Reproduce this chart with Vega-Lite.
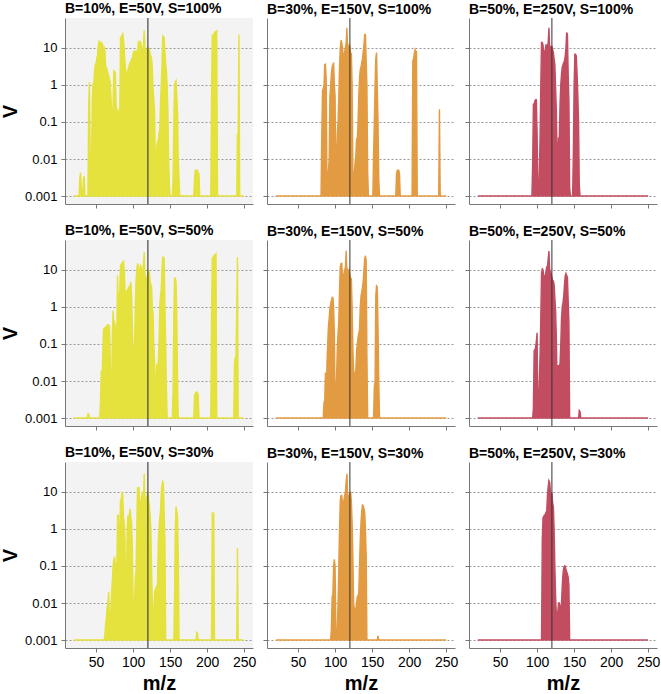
{
"$schema":"https://vega.github.io/schema/vega-lite/v6.json",
"background":"white",
"padding":{"left":0,"top":2,"right":4,"bottom":4},
"datasets":{"spec":[
{"p":1,"x":20,"v":0.001},{"p":1,"x":27,"v":0.001},{"p":1,"x":28,"v":0.003},{"p":1,"x":29,"v":0.0043},{"p":1,"x":30,"v":0.0018},{"p":1,"x":31,"v":0.001},{"p":1,"x":32,"v":0.001},{"p":1,"x":33,"v":0.003},{"p":1,"x":34,"v":0.0034},{"p":1,"x":35,"v":0.001},{"p":1,"x":39,"v":0.001},{"p":1,"x":40,"v":0.29},{"p":1,"x":41,"v":1.2},{"p":1,"x":42,"v":0.012},{"p":1,"x":43,"v":0.01},{"p":1,"x":44,"v":0.012},{"p":1,"x":45,"v":0.5},{"p":1,"x":46,"v":1.1},{"p":1,"x":47,"v":1.1},{"p":1,"x":48,"v":2.5},{"p":1,"x":49,"v":3.6},{"p":1,"x":50,"v":3.6},{"p":1,"x":51,"v":5.5},{"p":1,"x":52,"v":6},{"p":1,"x":53,"v":12},{"p":1,"x":54,"v":15},{"p":1,"x":55,"v":14},{"p":1,"x":56,"v":10},{"p":1,"x":57,"v":14},{"p":1,"x":58,"v":13},{"p":1,"x":59,"v":12},{"p":1,"x":60,"v":9},{"p":1,"x":61,"v":10},{"p":1,"x":62,"v":8},{"p":1,"x":63,"v":3},{"p":1,"x":64,"v":3},{"p":1,"x":65,"v":2.5},{"p":1,"x":66,"v":2},{"p":1,"x":67,"v":1.8},{"p":1,"x":68,"v":1.4},{"p":1,"x":69,"v":1.2},{"p":1,"x":70,"v":0.5},{"p":1,"x":71,"v":0.2},{"p":1,"x":72,"v":0.01},{"p":1,"x":73,"v":0.3},{"p":1,"x":74,"v":2.4},{"p":1,"x":75,"v":2.3},{"p":1,"x":76,"v":2.2},{"p":1,"x":77,"v":0.3},{"p":1,"x":78,"v":0.2},{"p":1,"x":79,"v":0.15},{"p":1,"x":80,"v":0.2},{"p":1,"x":81,"v":0.18},{"p":1,"x":82,"v":0.15},{"p":1,"x":83,"v":20},{"p":1,"x":84,"v":18},{"p":1,"x":85,"v":22},{"p":1,"x":86,"v":24},{"p":1,"x":87,"v":17},{"p":1,"x":88,"v":10},{"p":1,"x":89,"v":4},{"p":1,"x":90,"v":2.5},{"p":1,"x":91,"v":2},{"p":1,"x":92,"v":1.5},{"p":1,"x":93,"v":2.5},{"p":1,"x":94,"v":3},{"p":1,"x":95,"v":3.5},{"p":1,"x":96,"v":4},{"p":1,"x":97,"v":4.5},{"p":1,"x":98,"v":5},{"p":1,"x":99,"v":4.5},{"p":1,"x":100,"v":7},{"p":1,"x":101,"v":8},{"p":1,"x":102,"v":7.5},{"p":1,"x":103,"v":8},{"p":1,"x":104,"v":8.5},{"p":1,"x":105,"v":7},{"p":1,"x":106,"v":5},{"p":1,"x":107,"v":14},{"p":1,"x":108,"v":13},{"p":1,"x":109,"v":15},{"p":1,"x":110,"v":14},{"p":1,"x":111,"v":12},{"p":1,"x":112,"v":8},{"p":1,"x":113,"v":6},{"p":1,"x":114,"v":12},{"p":1,"x":115,"v":30},{"p":1,"x":116,"v":10},{"p":1,"x":117,"v":8},{"p":1,"x":118,"v":9},{"p":1,"x":119,"v":9},{"p":1,"x":120,"v":10},{"p":1,"x":121,"v":10},{"p":1,"x":122,"v":9},{"p":1,"x":123,"v":7},{"p":1,"x":124,"v":6},{"p":1,"x":125,"v":5},{"p":1,"x":126,"v":3},{"p":1,"x":127,"v":0.8},{"p":1,"x":128,"v":0.4},{"p":1,"x":129,"v":0.2},{"p":1,"x":130,"v":0.01},{"p":1,"x":131,"v":0.004},{"p":1,"x":132,"v":0.02},{"p":1,"x":133,"v":0.03},{"p":1,"x":134,"v":0.03},{"p":1,"x":135,"v":0.05},{"p":1,"x":136,"v":0.06},{"p":1,"x":137,"v":0.3},{"p":1,"x":138,"v":1},{"p":1,"x":139,"v":3},{"p":1,"x":140,"v":21},{"p":1,"x":141,"v":20},{"p":1,"x":142,"v":19},{"p":1,"x":143,"v":8},{"p":1,"x":144,"v":3.6},{"p":1,"x":145,"v":2.4},{"p":1,"x":146,"v":1},{"p":1,"x":147,"v":0.2},{"p":1,"x":148,"v":0.01},{"p":1,"x":149,"v":0.002},{"p":1,"x":150,"v":0.001},{"p":1,"x":153,"v":0.001},{"p":1,"x":154,"v":0.0024},{"p":1,"x":155,"v":0.1},{"p":1,"x":156,"v":1},{"p":1,"x":157,"v":1.2},{"p":1,"x":158,"v":1.3},{"p":1,"x":159,"v":0.5},{"p":1,"x":160,"v":0.2},{"p":1,"x":161,"v":0.01},{"p":1,"x":162,"v":0.003},{"p":1,"x":163,"v":0.001},{"p":1,"x":182,"v":0.001},{"p":1,"x":183,"v":0.003},{"p":1,"x":184,"v":0.005},{"p":1,"x":185,"v":0.005},{"p":1,"x":186,"v":0.005},{"p":1,"x":187,"v":0.005},{"p":1,"x":188,"v":0.004},{"p":1,"x":189,"v":0.004},{"p":1,"x":190,"v":0.001},{"p":1,"x":205,"v":0.001},{"p":1,"x":206,"v":0.5},{"p":1,"x":207,"v":23},{"p":1,"x":208,"v":20},{"p":1,"x":209,"v":22},{"p":1,"x":210,"v":26},{"p":1,"x":211,"v":24},{"p":1,"x":212,"v":28},{"p":1,"x":213,"v":29},{"p":1,"x":214,"v":0.001},{"p":1,"x":240,"v":0.001},{"p":1,"x":241,"v":0.047},{"p":1,"x":242,"v":0.047},{"p":1,"x":243,"v":23},{"p":1,"x":244,"v":0.001},{"p":1,"x":249,"v":0.001},

{"p":2,"x":20,"v":0.001},{"p":2,"x":81,"v":0.001},{"p":2,"x":82,"v":0.05},{"p":2,"x":83,"v":0.7},{"p":2,"x":84,"v":0.8},{"p":2,"x":85,"v":1},{"p":2,"x":86,"v":3.5},{"p":2,"x":87,"v":3.6},{"p":2,"x":88,"v":1.4},{"p":2,"x":89,"v":0.002},{"p":2,"x":90,"v":0.003},{"p":2,"x":91,"v":0.005},{"p":2,"x":92,"v":0.01},{"p":2,"x":93,"v":0.5},{"p":2,"x":94,"v":1},{"p":2,"x":95,"v":2},{"p":2,"x":96,"v":3},{"p":2,"x":97,"v":3.5},{"p":2,"x":98,"v":4},{"p":2,"x":99,"v":1},{"p":2,"x":100,"v":0.5},{"p":2,"x":101,"v":0.002},{"p":2,"x":102,"v":0.01},{"p":2,"x":103,"v":0.05},{"p":2,"x":104,"v":0.1},{"p":2,"x":105,"v":0.5},{"p":2,"x":106,"v":3},{"p":2,"x":107,"v":10},{"p":2,"x":108,"v":16},{"p":2,"x":109,"v":14},{"p":2,"x":110,"v":10},{"p":2,"x":111,"v":6},{"p":2,"x":112,"v":5},{"p":2,"x":113,"v":8},{"p":2,"x":114,"v":10},{"p":2,"x":115,"v":14},{"p":2,"x":116,"v":35},{"p":2,"x":117,"v":7.5},{"p":2,"x":118,"v":9},{"p":2,"x":119,"v":12},{"p":2,"x":120,"v":11},{"p":2,"x":121,"v":7},{"p":2,"x":122,"v":7},{"p":2,"x":123,"v":1},{"p":2,"x":124,"v":0.005},{"p":2,"x":125,"v":0.002},{"p":2,"x":126,"v":0.004},{"p":2,"x":127,"v":0.008},{"p":2,"x":128,"v":0.012},{"p":2,"x":129,"v":0.035},{"p":2,"x":130,"v":0.035},{"p":2,"x":131,"v":0.1},{"p":2,"x":132,"v":0.5},{"p":2,"x":133,"v":1.5},{"p":2,"x":134,"v":2.6},{"p":2,"x":135,"v":3},{"p":2,"x":136,"v":4},{"p":2,"x":137,"v":5},{"p":2,"x":138,"v":8},{"p":2,"x":139,"v":12},{"p":2,"x":140,"v":23},{"p":2,"x":141,"v":23},{"p":2,"x":142,"v":4.5},{"p":2,"x":143,"v":1},{"p":2,"x":144,"v":0.0047},{"p":2,"x":145,"v":0.001},{"p":2,"x":151,"v":0.001},{"p":2,"x":152,"v":0.014},{"p":2,"x":153,"v":0.1},{"p":2,"x":154,"v":1},{"p":2,"x":155,"v":5},{"p":2,"x":156,"v":7.5},{"p":2,"x":157,"v":0.85},{"p":2,"x":158,"v":0.1},{"p":2,"x":159,"v":0.003},{"p":2,"x":160,"v":0.001},{"p":2,"x":182,"v":0.001},{"p":2,"x":183,"v":0.004},{"p":2,"x":184,"v":0.005},{"p":2,"x":185,"v":0.005},{"p":2,"x":186,"v":0.005},{"p":2,"x":187,"v":0.004},{"p":2,"x":188,"v":0.001},{"p":2,"x":204,"v":0.001},{"p":2,"x":205,"v":4.5},{"p":2,"x":206,"v":5},{"p":2,"x":207,"v":7},{"p":2,"x":208,"v":9},{"p":2,"x":209,"v":8},{"p":2,"x":210,"v":8},{"p":2,"x":211,"v":0.001},{"p":2,"x":240,"v":0.001},{"p":2,"x":241,"v":0.22},{"p":2,"x":242,"v":0.001},{"p":2,"x":250,"v":0.001},

{"p":3,"x":20,"v":0.001},{"p":3,"x":93,"v":0.001},{"p":3,"x":94,"v":0.007},{"p":3,"x":95,"v":0.3},{"p":3,"x":96,"v":0.3},{"p":3,"x":97,"v":0.37},{"p":3,"x":98,"v":0.4},{"p":3,"x":99,"v":0.4},{"p":3,"x":100,"v":0.05},{"p":3,"x":101,"v":0.0017},{"p":3,"x":102,"v":0.001},{"p":3,"x":103,"v":0.004},{"p":3,"x":104,"v":0.038},{"p":3,"x":105,"v":1},{"p":3,"x":106,"v":14},{"p":3,"x":107,"v":14},{"p":3,"x":108,"v":12},{"p":3,"x":109,"v":6.7},{"p":3,"x":110,"v":7.5},{"p":3,"x":111,"v":9},{"p":3,"x":112,"v":12},{"p":3,"x":113,"v":12},{"p":3,"x":114,"v":10},{"p":3,"x":115,"v":14},{"p":3,"x":116,"v":35},{"p":3,"x":117,"v":10},{"p":3,"x":118,"v":10},{"p":3,"x":119,"v":11},{"p":3,"x":120,"v":11},{"p":3,"x":121,"v":9},{"p":3,"x":122,"v":7.5},{"p":3,"x":123,"v":5},{"p":3,"x":124,"v":3.6},{"p":3,"x":125,"v":0.85},{"p":3,"x":126,"v":0.2},{"p":3,"x":127,"v":0.014},{"p":3,"x":128,"v":0.014},{"p":3,"x":129,"v":0.037},{"p":3,"x":130,"v":0.037},{"p":3,"x":131,"v":0.3},{"p":3,"x":132,"v":1},{"p":3,"x":133,"v":2},{"p":3,"x":134,"v":3},{"p":3,"x":135,"v":3.5},{"p":3,"x":136,"v":4},{"p":3,"x":137,"v":4.5},{"p":3,"x":138,"v":6},{"p":3,"x":139,"v":10},{"p":3,"x":140,"v":26},{"p":3,"x":141,"v":23},{"p":3,"x":142,"v":2},{"p":3,"x":143,"v":0.37},{"p":3,"x":144,"v":0.0017},{"p":3,"x":145,"v":0.001},{"p":3,"x":148,"v":0.001},{"p":3,"x":149,"v":0.016},{"p":3,"x":150,"v":1},{"p":3,"x":151,"v":6.7},{"p":3,"x":152,"v":6.7},{"p":3,"x":153,"v":6},{"p":3,"x":154,"v":2},{"p":3,"x":155,"v":0.56},{"p":3,"x":156,"v":0.1},{"p":3,"x":157,"v":0.002},{"p":3,"x":158,"v":0.001},{"p":3,"x":250,"v":0.001},

{"p":4,"x":20,"v":0.001},{"p":4,"x":38,"v":0.001},{"p":4,"x":39,"v":0.0013},{"p":4,"x":40,"v":0.0013},{"p":4,"x":41,"v":0.001},{"p":4,"x":55,"v":0.001},{"p":4,"x":56,"v":0.003},{"p":4,"x":57,"v":0.019},{"p":4,"x":58,"v":0.012},{"p":4,"x":59,"v":0.05},{"p":4,"x":60,"v":0.25},{"p":4,"x":61,"v":0.25},{"p":4,"x":62,"v":0.28},{"p":4,"x":63,"v":0.28},{"p":4,"x":64,"v":0.3},{"p":4,"x":65,"v":0.32},{"p":4,"x":66,"v":0.33},{"p":4,"x":67,"v":0.33},{"p":4,"x":68,"v":0.3},{"p":4,"x":69,"v":0.05},{"p":4,"x":70,"v":0.005},{"p":4,"x":71,"v":0.003},{"p":4,"x":72,"v":0.2},{"p":4,"x":73,"v":0.8},{"p":4,"x":74,"v":0.35},{"p":4,"x":75,"v":0.38},{"p":4,"x":76,"v":0.3},{"p":4,"x":77,"v":0.04},{"p":4,"x":78,"v":0.2},{"p":4,"x":79,"v":7},{"p":4,"x":80,"v":0.2},{"p":4,"x":81,"v":2},{"p":4,"x":82,"v":3},{"p":4,"x":83,"v":13},{"p":4,"x":84,"v":14},{"p":4,"x":85,"v":15},{"p":4,"x":86,"v":12},{"p":4,"x":87,"v":18},{"p":4,"x":88,"v":10},{"p":4,"x":89,"v":3},{"p":4,"x":90,"v":1.6},{"p":4,"x":91,"v":2.5},{"p":4,"x":92,"v":2.8},{"p":4,"x":93,"v":3},{"p":4,"x":94,"v":3.3},{"p":4,"x":95,"v":3.5},{"p":4,"x":96,"v":4},{"p":4,"x":97,"v":4.6},{"p":4,"x":98,"v":2},{"p":4,"x":99,"v":0.3},{"p":4,"x":100,"v":0.05},{"p":4,"x":101,"v":0.035},{"p":4,"x":102,"v":0.1},{"p":4,"x":103,"v":1},{"p":4,"x":104,"v":5},{"p":4,"x":105,"v":10},{"p":4,"x":106,"v":15},{"p":4,"x":107,"v":13},{"p":4,"x":108,"v":5.7},{"p":4,"x":109,"v":10},{"p":4,"x":110,"v":13},{"p":4,"x":111,"v":12},{"p":4,"x":112,"v":6},{"p":4,"x":113,"v":8},{"p":4,"x":114,"v":15},{"p":4,"x":115,"v":30},{"p":4,"x":116,"v":7.5},{"p":4,"x":117,"v":6},{"p":4,"x":118,"v":5.7},{"p":4,"x":119,"v":6},{"p":4,"x":120,"v":8},{"p":4,"x":121,"v":10},{"p":4,"x":122,"v":8},{"p":4,"x":123,"v":5},{"p":4,"x":124,"v":4},{"p":4,"x":125,"v":3.4},{"p":4,"x":126,"v":1},{"p":4,"x":127,"v":0.65},{"p":4,"x":128,"v":0.1},{"p":4,"x":129,"v":0.035},{"p":4,"x":130,"v":0.003},{"p":4,"x":131,"v":0.01},{"p":4,"x":132,"v":0.028},{"p":4,"x":133,"v":0.028},{"p":4,"x":134,"v":0.03},{"p":4,"x":135,"v":0.1},{"p":4,"x":136,"v":1},{"p":4,"x":137,"v":2},{"p":4,"x":138,"v":2.8},{"p":4,"x":139,"v":10},{"p":4,"x":140,"v":22},{"p":4,"x":141,"v":22},{"p":4,"x":142,"v":20},{"p":4,"x":143,"v":1.2},{"p":4,"x":144,"v":0.1},{"p":4,"x":145,"v":0.007},{"p":4,"x":146,"v":0.001},{"p":4,"x":153,"v":0.001},{"p":4,"x":154,"v":0.005},{"p":4,"x":155,"v":0.5},{"p":4,"x":156,"v":6},{"p":4,"x":157,"v":6},{"p":4,"x":158,"v":5},{"p":4,"x":159,"v":0.65},{"p":4,"x":160,"v":0.01},{"p":4,"x":161,"v":0.001},{"p":4,"x":182,"v":0.001},{"p":4,"x":183,"v":0.004},{"p":4,"x":184,"v":0.0045},{"p":4,"x":185,"v":0.005},{"p":4,"x":186,"v":0.005},{"p":4,"x":187,"v":0.005},{"p":4,"x":188,"v":0.004},{"p":4,"x":189,"v":0.001},{"p":4,"x":205,"v":0.001},{"p":4,"x":206,"v":0.5},{"p":4,"x":207,"v":22},{"p":4,"x":208,"v":20},{"p":4,"x":209,"v":24},{"p":4,"x":210,"v":25},{"p":4,"x":211,"v":25},{"p":4,"x":212,"v":27},{"p":4,"x":213,"v":0.001},{"p":4,"x":236,"v":0.001},{"p":4,"x":237,"v":0.03},{"p":4,"x":238,"v":0.043},{"p":4,"x":239,"v":0.045},{"p":4,"x":240,"v":1},{"p":4,"x":241,"v":22},{"p":4,"x":242,"v":0.001},{"p":4,"x":249,"v":0.001},

{"p":5,"x":20,"v":0.001},{"p":5,"x":84,"v":0.001},{"p":5,"x":85,"v":0.0026},{"p":5,"x":86,"v":0.003},{"p":5,"x":87,"v":0.017},{"p":5,"x":88,"v":0.001},{"p":5,"x":89,"v":0.03},{"p":5,"x":90,"v":0.1},{"p":5,"x":91,"v":0.3},{"p":5,"x":92,"v":0.5},{"p":5,"x":93,"v":0.9},{"p":5,"x":94,"v":1.2},{"p":5,"x":95,"v":1.5},{"p":5,"x":96,"v":1.8},{"p":5,"x":97,"v":1.8},{"p":5,"x":98,"v":1},{"p":5,"x":99,"v":0.2},{"p":5,"x":100,"v":0.002},{"p":5,"x":101,"v":0.005},{"p":5,"x":102,"v":0.013},{"p":5,"x":103,"v":0.08},{"p":5,"x":104,"v":0.2},{"p":5,"x":105,"v":0.43},{"p":5,"x":106,"v":3},{"p":5,"x":107,"v":12},{"p":5,"x":108,"v":15},{"p":5,"x":109,"v":15},{"p":5,"x":110,"v":7},{"p":5,"x":111,"v":7},{"p":5,"x":112,"v":8},{"p":5,"x":113,"v":10},{"p":5,"x":114,"v":12},{"p":5,"x":115,"v":33},{"p":5,"x":116,"v":7},{"p":5,"x":117,"v":10},{"p":5,"x":118,"v":9},{"p":5,"x":119,"v":10},{"p":5,"x":120,"v":7},{"p":5,"x":121,"v":6},{"p":5,"x":122,"v":5.7},{"p":5,"x":123,"v":1},{"p":5,"x":124,"v":0.08},{"p":5,"x":125,"v":0.02},{"p":5,"x":126,"v":0.013},{"p":5,"x":127,"v":0.015},{"p":5,"x":128,"v":0.019},{"p":5,"x":129,"v":0.066},{"p":5,"x":130,"v":0.1},{"p":5,"x":131,"v":0.15},{"p":5,"x":132,"v":0.2},{"p":5,"x":133,"v":0.23},{"p":5,"x":134,"v":1},{"p":5,"x":135,"v":2},{"p":5,"x":136,"v":2.5},{"p":5,"x":137,"v":3.4},{"p":5,"x":138,"v":5},{"p":5,"x":139,"v":10},{"p":5,"x":140,"v":20},{"p":5,"x":141,"v":24},{"p":5,"x":142,"v":18},{"p":5,"x":143,"v":0.05},{"p":5,"x":144,"v":0.001},{"p":5,"x":152,"v":0.001},{"p":5,"x":153,"v":0.007},{"p":5,"x":154,"v":0.01},{"p":5,"x":155,"v":2},{"p":5,"x":156,"v":3.7},{"p":5,"x":157,"v":3.5},{"p":5,"x":158,"v":0.28},{"p":5,"x":159,"v":0.01},{"p":5,"x":160,"v":0.001},{"p":5,"x":250,"v":0.001},

{"p":6,"x":20,"v":0.001},{"p":6,"x":94,"v":0.001},{"p":6,"x":95,"v":0.0018},{"p":6,"x":96,"v":0.066},{"p":6,"x":97,"v":0.07},{"p":6,"x":98,"v":0.08},{"p":6,"x":99,"v":0.12},{"p":6,"x":100,"v":0.2},{"p":6,"x":101,"v":0.001},{"p":6,"x":102,"v":0.003},{"p":6,"x":103,"v":0.01},{"p":6,"x":104,"v":0.05},{"p":6,"x":105,"v":0.5},{"p":6,"x":106,"v":8},{"p":6,"x":107,"v":10.6},{"p":6,"x":108,"v":10},{"p":6,"x":109,"v":6.3},{"p":6,"x":110,"v":7},{"p":6,"x":111,"v":7},{"p":6,"x":112,"v":9},{"p":6,"x":113,"v":12},{"p":6,"x":114,"v":12},{"p":6,"x":115,"v":20},{"p":6,"x":116,"v":32},{"p":6,"x":117,"v":10},{"p":6,"x":118,"v":9},{"p":6,"x":119,"v":8},{"p":6,"x":120,"v":6.3},{"p":6,"x":121,"v":5},{"p":6,"x":122,"v":5},{"p":6,"x":123,"v":4},{"p":6,"x":124,"v":1.8},{"p":6,"x":125,"v":0.8},{"p":6,"x":126,"v":0.15},{"p":6,"x":127,"v":0.01},{"p":6,"x":128,"v":0.026},{"p":6,"x":129,"v":0.026},{"p":6,"x":130,"v":0.024},{"p":6,"x":131,"v":0.03},{"p":6,"x":132,"v":0.1},{"p":6,"x":133,"v":0.5},{"p":6,"x":134,"v":1},{"p":6,"x":135,"v":1.3},{"p":6,"x":136,"v":2},{"p":6,"x":137,"v":4},{"p":6,"x":138,"v":7},{"p":6,"x":139,"v":8},{"p":6,"x":140,"v":7},{"p":6,"x":141,"v":6.3},{"p":6,"x":142,"v":1.5},{"p":6,"x":143,"v":0.38},{"p":6,"x":144,"v":0.001},{"p":6,"x":156,"v":0.001},{"p":6,"x":157,"v":0.0016},{"p":6,"x":158,"v":0.0015},{"p":6,"x":159,"v":0.001},{"p":6,"x":250,"v":0.001},

{"p":7,"x":20,"v":0.001},{"p":7,"x":61,"v":0.001},{"p":7,"x":62,"v":0.0015},{"p":7,"x":63,"v":0.003},{"p":7,"x":64,"v":0.004},{"p":7,"x":65,"v":0.008},{"p":7,"x":66,"v":0.01},{"p":7,"x":67,"v":0.02},{"p":7,"x":68,"v":0.005},{"p":7,"x":69,"v":0.003},{"p":7,"x":70,"v":0.006},{"p":7,"x":71,"v":0.02},{"p":7,"x":72,"v":0.04},{"p":7,"x":73,"v":0.1},{"p":7,"x":74,"v":0.16},{"p":7,"x":75,"v":0.17},{"p":7,"x":76,"v":0.1},{"p":7,"x":77,"v":0.12},{"p":7,"x":78,"v":0.08},{"p":7,"x":79,"v":2.3},{"p":7,"x":80,"v":2.3},{"p":7,"x":81,"v":0.1},{"p":7,"x":82,"v":1},{"p":7,"x":83,"v":6},{"p":7,"x":84,"v":6},{"p":7,"x":85,"v":10},{"p":7,"x":86,"v":8},{"p":7,"x":87,"v":2},{"p":7,"x":88,"v":1.5},{"p":7,"x":89,"v":0.5},{"p":7,"x":90,"v":0.01},{"p":7,"x":91,"v":0.02},{"p":7,"x":92,"v":1},{"p":7,"x":93,"v":2.3},{"p":7,"x":94,"v":2},{"p":7,"x":95,"v":2.5},{"p":7,"x":96,"v":3.5},{"p":7,"x":97,"v":2},{"p":7,"x":98,"v":1.5},{"p":7,"x":99,"v":0.3},{"p":7,"x":100,"v":0.01},{"p":7,"x":101,"v":0.005},{"p":7,"x":102,"v":0.01},{"p":7,"x":103,"v":0.05},{"p":7,"x":104,"v":0.07},{"p":7,"x":105,"v":1},{"p":7,"x":106,"v":13},{"p":7,"x":107,"v":13},{"p":7,"x":108,"v":13},{"p":7,"x":109,"v":5},{"p":7,"x":110,"v":4.4},{"p":7,"x":111,"v":6},{"p":7,"x":112,"v":8.3},{"p":7,"x":113,"v":10},{"p":7,"x":114,"v":6},{"p":7,"x":115,"v":31},{"p":7,"x":116,"v":6},{"p":7,"x":117,"v":5.8},{"p":7,"x":118,"v":7},{"p":7,"x":119,"v":8},{"p":7,"x":120,"v":10},{"p":7,"x":121,"v":6},{"p":7,"x":122,"v":4.2},{"p":7,"x":123,"v":2.3},{"p":7,"x":124,"v":1},{"p":7,"x":125,"v":0.08},{"p":7,"x":126,"v":0.01},{"p":7,"x":127,"v":0.002},{"p":7,"x":128,"v":0.005},{"p":7,"x":129,"v":0.02},{"p":7,"x":130,"v":0.023},{"p":7,"x":131,"v":0.025},{"p":7,"x":132,"v":0.03},{"p":7,"x":133,"v":0.03},{"p":7,"x":134,"v":0.42},{"p":7,"x":135,"v":1},{"p":7,"x":136,"v":2},{"p":7,"x":137,"v":3},{"p":7,"x":138,"v":9},{"p":7,"x":139,"v":15},{"p":7,"x":140,"v":19},{"p":7,"x":141,"v":17},{"p":7,"x":142,"v":2.3},{"p":7,"x":143,"v":0.5},{"p":7,"x":144,"v":0.001},{"p":7,"x":155,"v":0.001},{"p":7,"x":156,"v":0.015},{"p":7,"x":157,"v":1},{"p":7,"x":158,"v":4},{"p":7,"x":159,"v":3},{"p":7,"x":160,"v":2.3},{"p":7,"x":161,"v":0.2},{"p":7,"x":162,"v":0.001},{"p":7,"x":185,"v":0.001},{"p":7,"x":186,"v":0.0016},{"p":7,"x":187,"v":0.0015},{"p":7,"x":188,"v":0.001},{"p":7,"x":206,"v":0.001},{"p":7,"x":207,"v":2.8},{"p":7,"x":208,"v":2.5},{"p":7,"x":209,"v":2.6},{"p":7,"x":210,"v":0.001},{"p":7,"x":240,"v":0.001},{"p":7,"x":241,"v":0.3},{"p":7,"x":242,"v":0.001},{"p":7,"x":249,"v":0.001},

{"p":8,"x":20,"v":0.001},{"p":8,"x":94,"v":0.001},{"p":8,"x":95,"v":0.002},{"p":8,"x":96,"v":0.015},{"p":8,"x":97,"v":0.017},{"p":8,"x":98,"v":0.1},{"p":8,"x":99,"v":0.15},{"p":8,"x":100,"v":0.1},{"p":8,"x":101,"v":0.002},{"p":8,"x":102,"v":0.001},{"p":8,"x":103,"v":0.002},{"p":8,"x":104,"v":0.01},{"p":8,"x":105,"v":0.1},{"p":8,"x":106,"v":1},{"p":8,"x":107,"v":6},{"p":8,"x":108,"v":8},{"p":8,"x":109,"v":8},{"p":8,"x":110,"v":5},{"p":8,"x":111,"v":5},{"p":8,"x":112,"v":6},{"p":8,"x":113,"v":8},{"p":8,"x":114,"v":10},{"p":8,"x":115,"v":20},{"p":8,"x":116,"v":31},{"p":8,"x":117,"v":8},{"p":8,"x":118,"v":7},{"p":8,"x":119,"v":8},{"p":8,"x":120,"v":9},{"p":8,"x":121,"v":10},{"p":8,"x":122,"v":5.3},{"p":8,"x":123,"v":1.5},{"p":8,"x":124,"v":0.2},{"p":8,"x":125,"v":0.01},{"p":8,"x":126,"v":0.007},{"p":8,"x":127,"v":0.007},{"p":8,"x":128,"v":0.007},{"p":8,"x":129,"v":0.01},{"p":8,"x":130,"v":0.015},{"p":8,"x":131,"v":0.015},{"p":8,"x":132,"v":0.02},{"p":8,"x":133,"v":0.1},{"p":8,"x":134,"v":0.52},{"p":8,"x":135,"v":1.5},{"p":8,"x":136,"v":3},{"p":8,"x":137,"v":4.4},{"p":8,"x":138,"v":4.2},{"p":8,"x":139,"v":3.5},{"p":8,"x":140,"v":2.8},{"p":8,"x":141,"v":1},{"p":8,"x":142,"v":0.2},{"p":8,"x":143,"v":0.001},{"p":8,"x":157,"v":0.001},{"p":8,"x":158,"v":0.0013},{"p":8,"x":159,"v":0.001},{"p":8,"x":250,"v":0.001},

{"p":9,"x":20,"v":0.001},{"p":9,"x":106,"v":0.001},{"p":9,"x":107,"v":0.5},{"p":9,"x":108,"v":2},{"p":9,"x":109,"v":2.2},{"p":9,"x":110,"v":2.4},{"p":9,"x":111,"v":2.4},{"p":9,"x":112,"v":2.8},{"p":9,"x":113,"v":3},{"p":9,"x":114,"v":8},{"p":9,"x":115,"v":14},{"p":9,"x":116,"v":20},{"p":9,"x":117,"v":18},{"p":9,"x":118,"v":10},{"p":9,"x":119,"v":8.6},{"p":9,"x":120,"v":9},{"p":9,"x":121,"v":5},{"p":9,"x":122,"v":4},{"p":9,"x":123,"v":1},{"p":9,"x":124,"v":0.1},{"p":9,"x":125,"v":0.015},{"p":9,"x":126,"v":0.005},{"p":9,"x":127,"v":0.005},{"p":9,"x":128,"v":0.006},{"p":9,"x":129,"v":0.01},{"p":9,"x":130,"v":0.01},{"p":9,"x":131,"v":0.008},{"p":9,"x":132,"v":0.006},{"p":9,"x":133,"v":0.01},{"p":9,"x":134,"v":0.03},{"p":9,"x":135,"v":0.06},{"p":9,"x":136,"v":0.09},{"p":9,"x":137,"v":0.1},{"p":9,"x":138,"v":0.1},{"p":9,"x":139,"v":0.08},{"p":9,"x":140,"v":0.07},{"p":9,"x":141,"v":0.06},{"p":9,"x":142,"v":0.05},{"p":9,"x":143,"v":0.03},{"p":9,"x":144,"v":0.001},{"p":9,"x":250,"v":0.001}
],
"vline":[{"m":120}]},
"config":{
 "font":"Liberation Sans",
 "view":{"stroke":null},
 "title":{"anchor":"start","frame":"group","fontSize":14,"fontWeight":"bold","font":"Liberation Sans","color":"#000","offset":1},
 "area":{"strokeWidth":1.4,"strokeJoin":"miter"},
 "axis":{"domainColor":"#777","tickColor":"#777","tickSize":4,"labelColor":"#000","labelFont":"Liberation Sans","titleFont":"Liberation Sans","titleFontWeight":"bold","titleFontSize":20,"titleColor":"#000","labelFontSize":13},
 "axisY":{"grid":true,"gridColor":"#999","gridDash":[2,2],"gridWidth":1,"labelPadding":4,"titlePadding":4},
 "axisX":{"grid":false,"labelPadding":3,"titlePadding":4,"labelFontSize":14}
},
"bounds":"flush",
"columns":3,
"spacing":{"row":36,"column":14},
"concat":[
 {"width":188,"height":186,"title":"B=10%, E=50V, S=100%","view":{"fill":"#f3f3f3"},"layer":[
  {"data":{"name":"spec"},"transform":[{"filter":"datum.p==1"}],"mark":{"type":"area","color":"#e5e13d","stroke":"#e5e13d"},
   "encoding":{"x":{"field":"x","type":"quantitative","scale":{"domain":[8,262],"nice":false,"zero":false},"axis":{"values":[50,100,150,200,250],"labels":false,"title":null}},
    "y":{"field":"v","type":"quantitative","scale":{"type":"log","domain":[0.00061,64],"nice":false},"axis":{"values":[0.001,0.01,0.1,1,10],"format":"~g","title":"V"}},"y2":{"datum":0.001}}},
  {"data":{"name":"vline"},"mark":{"type":"rule","color":"#444","strokeWidth":1.2},"encoding":{"x":{"field":"m","type":"quantitative"}}}
 ]},
 {"width":188,"height":186,"title":"B=30%, E=150V, S=100%","layer":[
  {"data":{"name":"spec"},"transform":[{"filter":"datum.p==2"}],"mark":{"type":"area","color":"#e39b42","stroke":"#e39b42"},
   "encoding":{"x":{"field":"x","type":"quantitative","scale":{"domain":[8,262],"nice":false,"zero":false},"axis":{"values":[50,100,150,200,250],"labels":false,"title":null}},
    "y":{"field":"v","type":"quantitative","scale":{"type":"log","domain":[0.00061,64],"nice":false},"axis":{"values":[0.001,0.01,0.1,1,10],"labels":false,"title":null}},"y2":{"datum":0.001}}},
  {"data":{"name":"vline"},"mark":{"type":"rule","color":"#333","strokeWidth":1},"encoding":{"x":{"field":"m","type":"quantitative"}}}
 ]},
 {"width":188,"height":186,"title":"B=50%, E=250V, S=100%","layer":[
  {"data":{"name":"spec"},"transform":[{"filter":"datum.p==3"}],"mark":{"type":"area","color":"#c24d61","stroke":"#c24d61"},
   "encoding":{"x":{"field":"x","type":"quantitative","scale":{"domain":[8,262],"nice":false,"zero":false},"axis":{"values":[50,100,150,200,250],"labels":false,"title":null}},
    "y":{"field":"v","type":"quantitative","scale":{"type":"log","domain":[0.00061,64],"nice":false},"axis":{"values":[0.001,0.01,0.1,1,10],"labels":false,"title":null}},"y2":{"datum":0.001}}},
  {"data":{"name":"vline"},"mark":{"type":"rule","color":"#333","strokeWidth":1},"encoding":{"x":{"field":"m","type":"quantitative"}}}
 ]},
 {"width":188,"height":186,"title":"B=10%, E=50V, S=50%","view":{"fill":"#f3f3f3"},"layer":[
  {"data":{"name":"spec"},"transform":[{"filter":"datum.p==4"}],"mark":{"type":"area","color":"#e5e13d","stroke":"#e5e13d"},
   "encoding":{"x":{"field":"x","type":"quantitative","scale":{"domain":[8,262],"nice":false,"zero":false},"axis":{"values":[50,100,150,200,250],"labels":false,"title":null}},
    "y":{"field":"v","type":"quantitative","scale":{"type":"log","domain":[0.00061,64],"nice":false},"axis":{"values":[0.001,0.01,0.1,1,10],"format":"~g","title":"V"}},"y2":{"datum":0.001}}},
  {"data":{"name":"vline"},"mark":{"type":"rule","color":"#444","strokeWidth":1.2},"encoding":{"x":{"field":"m","type":"quantitative"}}}
 ]},
 {"width":188,"height":186,"title":"B=30%, E=150V, S=50%","layer":[
  {"data":{"name":"spec"},"transform":[{"filter":"datum.p==5"}],"mark":{"type":"area","color":"#e39b42","stroke":"#e39b42"},
   "encoding":{"x":{"field":"x","type":"quantitative","scale":{"domain":[8,262],"nice":false,"zero":false},"axis":{"values":[50,100,150,200,250],"labels":false,"title":null}},
    "y":{"field":"v","type":"quantitative","scale":{"type":"log","domain":[0.00061,64],"nice":false},"axis":{"values":[0.001,0.01,0.1,1,10],"labels":false,"title":null}},"y2":{"datum":0.001}}},
  {"data":{"name":"vline"},"mark":{"type":"rule","color":"#333","strokeWidth":1},"encoding":{"x":{"field":"m","type":"quantitative"}}}
 ]},
 {"width":188,"height":186,"title":"B=50%, E=250V, S=50%","layer":[
  {"data":{"name":"spec"},"transform":[{"filter":"datum.p==6"}],"mark":{"type":"area","color":"#c24d61","stroke":"#c24d61"},
   "encoding":{"x":{"field":"x","type":"quantitative","scale":{"domain":[8,262],"nice":false,"zero":false},"axis":{"values":[50,100,150,200,250],"labels":false,"title":null}},
    "y":{"field":"v","type":"quantitative","scale":{"type":"log","domain":[0.00061,64],"nice":false},"axis":{"values":[0.001,0.01,0.1,1,10],"labels":false,"title":null}},"y2":{"datum":0.001}}},
  {"data":{"name":"vline"},"mark":{"type":"rule","color":"#333","strokeWidth":1},"encoding":{"x":{"field":"m","type":"quantitative"}}}
 ]},
 {"width":188,"height":186,"title":"B=10%, E=50V, S=30%","view":{"fill":"#f3f3f3"},"layer":[
  {"data":{"name":"spec"},"transform":[{"filter":"datum.p==7"}],"mark":{"type":"area","color":"#e5e13d","stroke":"#e5e13d"},
   "encoding":{"x":{"field":"x","type":"quantitative","scale":{"domain":[8,262],"nice":false,"zero":false},"axis":{"values":[50,100,150,200,250],"title":"m/z"}},
    "y":{"field":"v","type":"quantitative","scale":{"type":"log","domain":[0.00061,64],"nice":false},"axis":{"values":[0.001,0.01,0.1,1,10],"format":"~g","title":"V"}},"y2":{"datum":0.001}}},
  {"data":{"name":"vline"},"mark":{"type":"rule","color":"#444","strokeWidth":1.2},"encoding":{"x":{"field":"m","type":"quantitative"}}}
 ]},
 {"width":188,"height":186,"title":"B=30%, E=150V, S=30%","layer":[
  {"data":{"name":"spec"},"transform":[{"filter":"datum.p==8"}],"mark":{"type":"area","color":"#e39b42","stroke":"#e39b42"},
   "encoding":{"x":{"field":"x","type":"quantitative","scale":{"domain":[8,262],"nice":false,"zero":false},"axis":{"values":[50,100,150,200,250],"title":"m/z"}},
    "y":{"field":"v","type":"quantitative","scale":{"type":"log","domain":[0.00061,64],"nice":false},"axis":{"values":[0.001,0.01,0.1,1,10],"labels":false,"title":null}},"y2":{"datum":0.001}}},
  {"data":{"name":"vline"},"mark":{"type":"rule","color":"#333","strokeWidth":1},"encoding":{"x":{"field":"m","type":"quantitative"}}}
 ]},
 {"width":188,"height":186,"title":"B=50%, E=250V, S=30%","layer":[
  {"data":{"name":"spec"},"transform":[{"filter":"datum.p==9"}],"mark":{"type":"area","color":"#c24d61","stroke":"#c24d61"},
   "encoding":{"x":{"field":"x","type":"quantitative","scale":{"domain":[8,262],"nice":false,"zero":false},"axis":{"values":[50,100,150,200,250],"title":"m/z"}},
    "y":{"field":"v","type":"quantitative","scale":{"type":"log","domain":[0.00061,64],"nice":false},"axis":{"values":[0.001,0.01,0.1,1,10],"labels":false,"title":null}},"y2":{"datum":0.001}}},
  {"data":{"name":"vline"},"mark":{"type":"rule","color":"#333","strokeWidth":1},"encoding":{"x":{"field":"m","type":"quantitative"}}}
 ]}
]
}
